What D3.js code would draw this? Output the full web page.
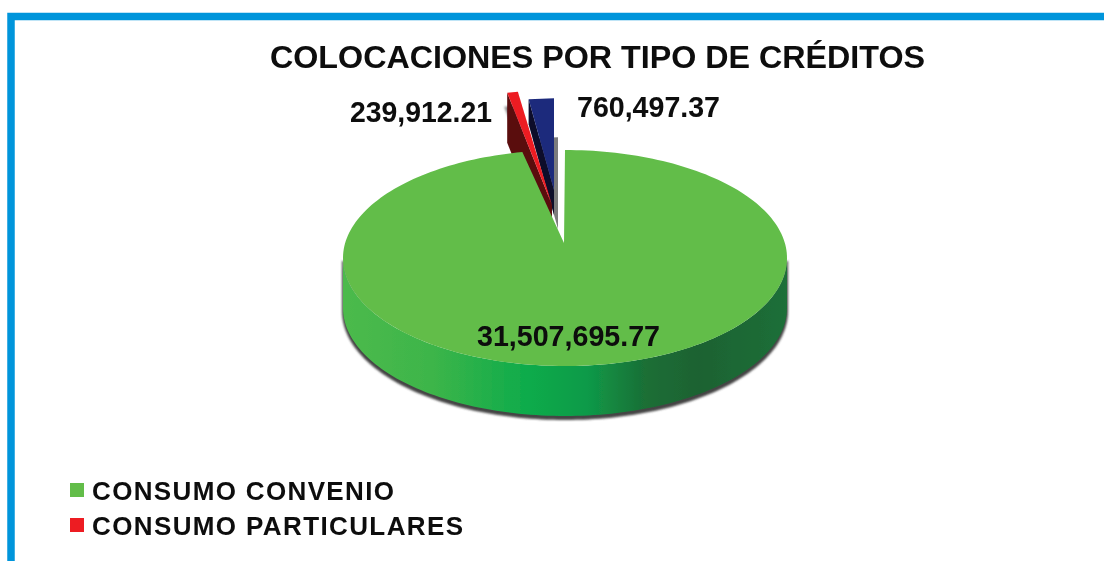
<!DOCTYPE html>
<html><head><meta charset="utf-8">
<script src="https://cdnjs.cloudflare.com/ajax/libs/d3/7.8.5/d3.min.js"></script>
<style>html,body{margin:0;padding:0;background:#fff;overflow:hidden}svg{display:block}text{font-family:"Liberation Sans",Arial,sans-serif;font-weight:bold;fill:#0a0a0a}</style>
</head><body><svg id="c" width="1104" height="561"></svg>
<script>
const chartTitle = "COLOCACIONES POR TIPO DE CRÉDITOS";
const sliceNames = ["CONSUMO CONVENIO", "CONSUMO PARTICULARES", "OTROS"];
const sliceValues = [31507695.77, 239912.21, 760497.37];
const sliceLabels = ["31,507,695.77", "239,912.21", "760,497.37"];
const legendNames = ["CONSUMO CONVENIO", "CONSUMO PARTICULARES"];

const svg = d3.select("#c");
const W = 1104, H = 561;
const cx = 565, cy = 258, rx = 222, ry = 108, depth = 50;
const defs = svg.append("defs");

svg.append("path").attr("d", `M11,${H}V16.5H${W}`).attr("fill", "none").attr("stroke", "#0095db").attr("stroke-width", 7.5);

const grad = defs.append("linearGradient").attr("id", "wall").attr("gradientUnits", "userSpaceOnUse")
  .attr("x1", cx - rx).attr("x2", cx + rx).attr("y1", 0).attr("y2", 0);
[[0, "#4cba4c"], [.2, "#3db54a"], [.42, "#0dab4b"], [.55, "#0f9a48"], [.68, "#1a6f36"], [.8, "#1a6232"], [1, "#1e6f38"]]
  .forEach(([o, c]) => grad.append("stop").attr("offset", o).attr("stop-color", c));
defs.append("filter").attr("id", "soft").attr("x", "-10%").attr("y", "-10%").attr("width", "120%").attr("height", "120%")
  .append("feGaussianBlur").attr("stdDeviation", 1.3);
defs.append("filter").attr("id", "fine").attr("filterUnits", "userSpaceOnUse").attr("x", 0).attr("y", 0).attr("width", W).attr("height", H)
  .append("feGaussianBlur").attr("stdDeviation", 0.55);

const pie = d3.pie().sort(null)(sliceValues);
const [green, red, blue] = pie;

const ex = (a, s = 1) => rx * s * Math.sin(a);
const ey = (a, s = 1) => -ry * s * Math.cos(a);
const line = d3.line();
const steps = (a0, a1, n) => d3.range(n + 1).map(i => a0 + (a1 - a0) * i / n);

// exploded slices: flat outer edge, each with its own apex, rim scale and wall depth
const redSpec = { d: red, apex: [552, 205], sx: 1.05, sy: 1.06, wall: 50 };
const blueSpec = { d: blue, apex: [554, 190], sx: 0.78, sy: 0.85, wall: 25 };
function wedge(s) {
  return [s.apex].concat([s.d.startAngle, s.d.endAngle].map(a => [s.apex[0] + ex(a, s.sx), s.apex[1] + ey(a, s.sy)]));
}
function wall(s) {
  const t = [s.apex[0] + ex(s.d.startAngle, s.sx), s.apex[1] + ey(s.d.startAngle, s.sy)];
  return [t, s.apex, [s.apex[0], s.apex[1] + s.wall], [t[0], t[1] + s.wall]];
}
const root = svg.append("g").attr("filter", "url(#fine)");
const g = root.append("g");

g.append("path").attr("d", line(wedge(blueSpec)) + "Z").attr("transform", "translate(4,39)").attr("fill", "#7c7c7c");
g.append("path").attr("d", line(wedge(redSpec)) + "Z").attr("transform", "translate(-3,14)").attr("fill", "#888").attr("filter", "url(#soft)");
g.append("path").attr("d", line(wall(blueSpec)) + "Z").attr("fill", "#08082a");
g.append("path").attr("d", line(wedge(blueSpec)) + "Z").attr("fill", "#1c2a7c");
g.append("path").attr("d", line(wall(redSpec)) + "Z").attr("fill", "#5a0a10");
g.append("path").attr("d", line(wedge(redSpec)) + "Z").attr("fill", "#ed1c24");

// main slice
const greenApex = [564, 243];
const greenPts = [greenApex].concat(steps(green.startAngle, green.endAngle, 240).map(a => [cx + ex(a), cy + ey(a)]));
const gapShadow = [greenApex].concat(steps(green.endAngle - 0.25, green.endAngle, 10).map(a => [cx + ex(a), cy + ey(a)]));
const silhouette = d3.area().x(a => cx + ex(a)).y0(a => cy + ey(a)).y1(a => cy + ey(a) + depth)(steps(Math.PI / 2, 3 * Math.PI / 2, 120));

root.append("path").attr("d", line(gapShadow) + "Z").attr("transform", "translate(-5,40)").attr("fill", "#888");
root.append("path").attr("d", silhouette).attr("transform", "translate(0,3)").attr("fill", "#444").attr("stroke", "#444").attr("stroke-width", 2).attr("filter", "url(#soft)");
root.append("path").attr("d", silhouette).attr("fill", "url(#wall)");
root.append("path").attr("d", line(greenPts) + "Z").attr("fill", "#62bd4a");

function txt(s, x, y, size, w, adj = "spacingAndGlyphs") {
  return root.append("text").attr("x", x).attr("y", y).attr("font-size", size)
    .attr("textLength", w).attr("lengthAdjust", adj).text(s);
}
txt(chartTitle, 270, 68, 31, 655);
txt(sliceLabels[1], 350, 122, 30, 142);
txt(sliceLabels[2], 577, 117, 30, 143);
txt(sliceLabels[0], 477, 346, 30, 183);

const legY = d3.scalePoint().domain(legendNames).range([490, 525]);
const colour = d3.scaleOrdinal().domain(legendNames).range(["#62bd4a", "#ed1c24"]);
const legWidths = [302, 371];
legendNames.forEach((n, i) => {
  root.append("rect").attr("x", 70).attr("y", legY(n) - 7).attr("width", 14).attr("height", 14).attr("fill", colour(n));
  txt(n, 92, legY(n) + 10, 26, legWidths[i], "spacing");
});
</script></body></html>
